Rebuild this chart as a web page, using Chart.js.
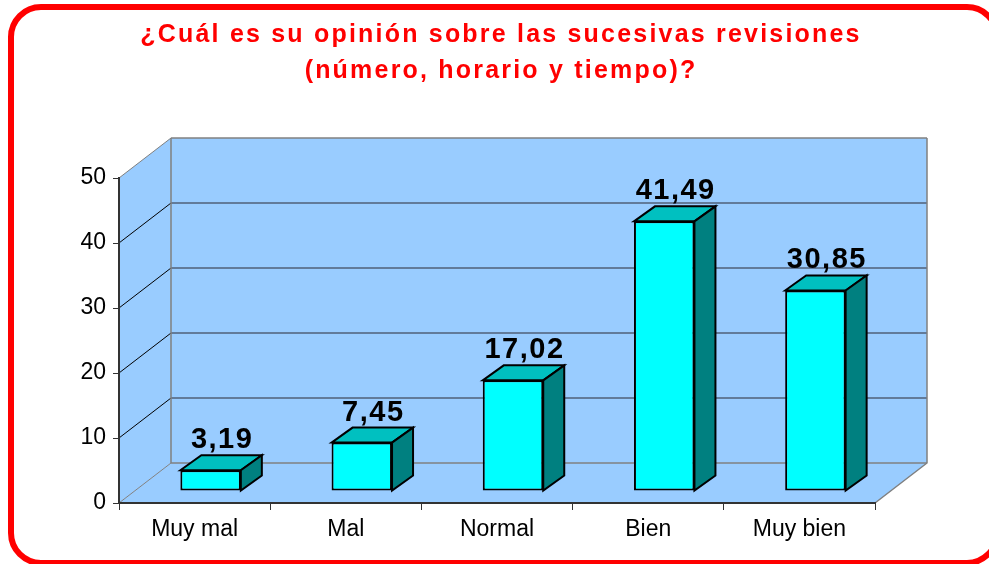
<!DOCTYPE html>
<html>
<head>
<meta charset="utf-8">
<script src="https://cdn.jsdelivr.net/npm/chart.js@4/dist/chart.umd.min.js"></script>
<style>
  html, body { margin: 0; padding: 0; background: #fff; }
  canvas { display: block; }
</style>
</head>
<body>
<canvas id="grafico" width="989" height="564"></canvas>
<script>
// Datos del grafico
const titulo = ['¿Cuál es su opinión sobre las sucesivas revisiones', '(número, horario y tiempo)?'];
const categorias = ['Muy mal', 'Mal', 'Normal', 'Bien', 'Muy bien'];
const valores = [3.19, 7.45, 17.02, 41.49, 30.85];
const ticksY = [0, 10, 20, 30, 40, 50];

// Profundidad de las paredes y de las barras (vista 3D)
const PARED = { dx: 52, dy: -40 };
const PLANO_BARRAS = { dx: 16, dy: -12 };
const BARRA = { dx: 21, dy: -15 };

const AZUL = '#99CCFF';
const GRIS = '#808080';

function formatear(v) {
  return v.toFixed(2).replace('.', ',');
}

// Marco rojo, titulo y paredes del grafico
const fondo3D = {
  id: 'fondo3D',
  beforeDraw(chart) {
    const ctx = chart.ctx;
    const area = chart.chartArea;
    const y = chart.scales.y;
    const x0 = area.left, x1 = area.right, yb = area.bottom, yt = area.top;
    const dx = PARED.dx, dy = PARED.dy;

    ctx.save();
    ctx.fillStyle = '#fff';
    ctx.fillRect(0, 0, chart.width, chart.height);

    // marco
    ctx.strokeStyle = '#FF0000';
    ctx.lineWidth = 6;
    ctx.beginPath();
    ctx.roundRect(11, 7, 986, 556, 30);
    ctx.stroke();

    // titulo
    ctx.fillStyle = '#FF0000';
    ctx.font = 'bold 25px "Liberation Sans", Arial, sans-serif';
    ctx.textAlign = 'center';
    ctx.textBaseline = 'alphabetic';
    ctx.letterSpacing = '2.2px';
    ctx.fillText(titulo[0], 501, 42);
    ctx.fillText(titulo[1], 501, 78);
    ctx.letterSpacing = '0px';

    // paredes
    ctx.fillStyle = AZUL;
    ctx.fillRect(x0 + dx, yt + dy, x1 - x0, yb - yt);
    ctx.beginPath();
    ctx.moveTo(x0, yt); ctx.lineTo(x0 + dx, yt + dy);
    ctx.lineTo(x0 + dx, yb + dy); ctx.lineTo(x0, yb);
    ctx.closePath(); ctx.fill();
    ctx.beginPath();
    ctx.moveTo(x0, yb); ctx.lineTo(x1, yb);
    ctx.lineTo(x1 + dx, yb + dy); ctx.lineTo(x0 + dx, yb + dy);
    ctx.closePath(); ctx.fill();

    // lineas de division
    ticksY.forEach(t => {
      const py = y.getPixelForValue(t);
      const borde = (t === ticksY[0] || t === ticksY[ticksY.length - 1]);
      ctx.strokeStyle = borde ? GRIS : '#506078';
      ctx.lineWidth = 1.5;
      ctx.beginPath();
      ctx.moveTo(x0 + dx, py + dy);
      ctx.lineTo(x1 + dx, py + dy);
      ctx.stroke();
      ctx.strokeStyle = borde ? GRIS : '#000';
      ctx.lineWidth = 1;
      ctx.beginPath();
      ctx.moveTo(x0, py);
      ctx.lineTo(x0 + dx, py + dy);
      ctx.stroke();
    });

    ctx.strokeStyle = GRIS;
    ctx.lineWidth = 1.5;
    ctx.beginPath();
    ctx.moveTo(x0 + dx, yt + dy); ctx.lineTo(x0 + dx, yb + dy);
    ctx.moveTo(x1 + dx, yt + dy); ctx.lineTo(x1 + dx, yb + dy);
    ctx.lineTo(x1, yb);
    ctx.stroke();
    ctx.restore();
  },
  beforeDatasetsDraw(chart) {
    chart.ctx.save();
    chart.ctx.translate(PLANO_BARRAS.dx, PLANO_BARRAS.dy);
  },
  afterDatasetsDraw(chart) {
    const ctx = chart.ctx;
    const meta = chart.getDatasetMeta(0);
    ctx.lineWidth = 2;
    ctx.lineJoin = 'miter';
    ctx.strokeStyle = '#000';
    meta.data.forEach((barra, i) => {
      const p = barra.getProps(['x', 'y', 'base', 'width'], true);
      const l = p.x - p.width / 2, r = p.x + p.width / 2;
      // cara superior
      ctx.fillStyle = '#00C0C0';
      ctx.beginPath();
      ctx.moveTo(l, p.y); ctx.lineTo(l + BARRA.dx, p.y + BARRA.dy);
      ctx.lineTo(r + BARRA.dx, p.y + BARRA.dy); ctx.lineTo(r, p.y);
      ctx.closePath(); ctx.fill(); ctx.stroke();
      // cara lateral
      ctx.fillStyle = '#008080';
      ctx.beginPath();
      ctx.moveTo(r, p.y); ctx.lineTo(r + BARRA.dx, p.y + BARRA.dy);
      ctx.lineTo(r + BARRA.dx, p.base + BARRA.dy); ctx.lineTo(r, p.base);
      ctx.closePath(); ctx.fill(); ctx.stroke();
      // etiqueta
      ctx.fillStyle = '#000';
      ctx.font = 'bold 29px "Liberation Sans", Arial, sans-serif';
      ctx.textAlign = 'center';
      ctx.textBaseline = 'alphabetic';
      ctx.letterSpacing = '1.5px';
      ctx.fillText(formatear(valores[i]), p.x + BARRA.dx / 2 + 1, p.y + BARRA.dy - 7);
      ctx.letterSpacing = '0px';
    });
    ctx.restore();
  }
};

const fuente = { family: '"Liberation Sans", Arial, sans-serif', size: 23 };

new Chart(document.getElementById('grafico'), {
  type: 'bar',
  data: {
    labels: categorias,
    datasets: [{
      data: valores,
      backgroundColor: '#00FFFF',
      borderColor: '#000',
      borderWidth: 2,
      borderSkipped: false,
      barPercentage: 0.4,
      categoryPercentage: 1,
      clip: false
    }]
  },
  options: {
    responsive: false,
    animation: false,
    devicePixelRatio: 1,
    layout: { padding: { left: 0, right: 114, top: 178, bottom: 0 } },
    plugins: {
      legend: { display: false },
      title: { display: false },
      tooltip: { enabled: false }
    },
    scales: {
      x: {
        afterFit: s => { s.height = 61; },
        grid: { drawOnChartArea: false, drawTicks: true, tickLength: 7, color: '#333' },
        border: { color: '#333', width: 2 },
        ticks: { color: '#000', font: fuente, padding: 6 }
      },
      y: {
        min: 0,
        max: 50,
        afterFit: s => { s.width = 119; },
        afterBuildTicks: s => { s.ticks = ticksY.map(v => ({ value: v })); },
        grid: { drawOnChartArea: false, drawTicks: true, tickLength: 6, color: '#333' },
        border: { color: '#333', width: 2 },
        ticks: { color: '#000', font: fuente, padding: 7 }
      }
    }
  },
  plugins: [fondo3D]
});
</script>
</body>
</html>
